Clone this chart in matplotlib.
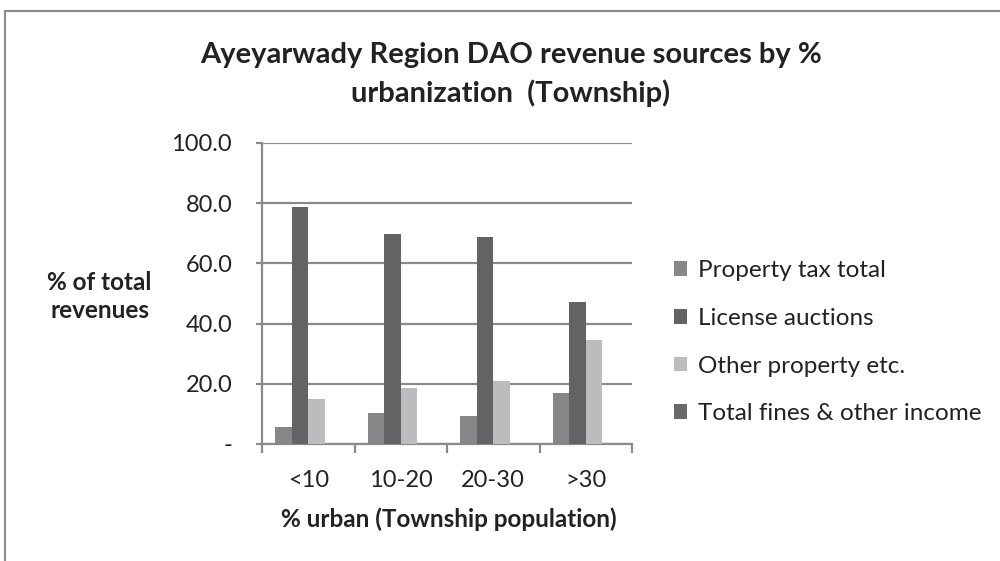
import matplotlib
matplotlib.use("Agg")
import matplotlib.pyplot as plt
import numpy as np
from matplotlib.patches import Rectangle, Patch

categories = ["<10", "10-20", "20-30", ">30"]
property_tax = [5.5, 10.2, 9.4, 17.0]
license_auctions = [78.6, 69.8, 68.9, 47.2]
other_property = [14.9, 18.7, 20.9, 34.5]
fines_other = [0.0, 0.0, 0.0, 0.0]
series_names = ["Property tax total", "License auctions", "Other property etc.", "Total fines & other income"]
colors = ["#87878a", "#636365", "#bcbcbf", "#69696b"]
yticks = [0, 20, 40, 60, 80, 100]
ytick_labels = ["-", "20.0", "40.0", "60.0", "80.0", "100.0"]

plt.rcParams['font.family'] = ['Lato', 'DejaVu Sans']
txt = "#222222"

fig = plt.figure(figsize=(10, 5.61), dpi=100)
fig.patch.set_facecolor("white")
fig.add_artist(Rectangle((0.005, -0.05), 1.2, 1.0 - 0.019 + 0.05, transform=fig.transFigure,
                         fill=False, edgecolor="#8a8a8a", linewidth=1.5))

ax = fig.add_axes([0.262, 0.2086, 0.370, 0.5365])
x = np.arange(len(categories))
w = 0.179
data = [property_tax, license_auctions, other_property, fines_other]
for i, (vals, c) in enumerate(zip(data, colors)):
    ax.bar(x + (i - 1.5) * w, vals, width=w, color=c, edgecolor="none", zorder=3)

ax.set_xlim(-0.5, len(categories) - 0.5)
ax.set_ylim(0, 100)
ax.set_yticks(yticks)
ax.set_yticklabels(ytick_labels, fontsize=17, color=txt)
ax.yaxis.grid(True, color="#8a8a8a", linewidth=1.6, zorder=0)
ax.set_xticks(x)
ax.set_xticklabels(categories, fontsize=17, color=txt)
ax.tick_params(axis='x', which='major', length=0, pad=19)
ax.set_xticks(np.arange(-0.5, len(categories)), minor=True)
ax.tick_params(axis='x', which='minor', length=6.5, width=1.6, color="#8a8a8a", direction='out')
ax.tick_params(axis='y', length=4.5, width=1.6, color="#8a8a8a", pad=17)
for s in ["top", "right"]:
    ax.spines[s].set_visible(False)
ax.spines["left"].set_color("#8a8a8a")
ax.spines["left"].set_linewidth(1.6)
ax.spines["bottom"].set_color("#8a8a8a")
ax.spines["bottom"].set_linewidth(1.6)
ax.set_axisbelow(True)

fig.text(0.511, 0.902, "Ayeyarwady Region DAO revenue sources by %", ha="center", va="center",
         fontsize=21, fontweight="bold", color=txt)
fig.text(0.511, 0.834, "urbanization  (Township)", ha="center", va="center",
         fontsize=21, fontweight="bold", color=txt)
fig.text(0.0995, 0.472, "% of total\nrevenues", ha="center", va="center", fontsize=17.5,
         fontweight="bold", color=txt, linespacing=1.25)
fig.text(0.4485, 0.075, "% urban (Township population)", ha="center", va="center", fontsize=17.5,
         fontweight="bold", color=txt)

handles = [Patch(facecolor=c, edgecolor="none") for c in colors]
fig.legend(handles, series_names, loc="center left", bbox_to_anchor=(0.652, 0.390),
           frameon=False, fontsize=17.5, handlelength=0.55, handleheight=0.55,
           handletextpad=0.45, labelspacing=1.1, labelcolor=txt)

fig.savefig("out.png", dpi=100, facecolor="white")
